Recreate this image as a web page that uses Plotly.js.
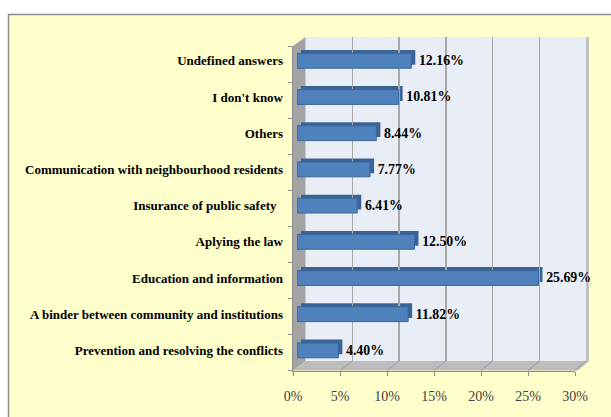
<!DOCTYPE html>
<html><head><meta charset="utf-8">
<script src="https://cdn.plot.ly/plotly-3.0.1.min.js"></script>
<style>html,body{margin:0;padding:0;background:#fff}#chart{width:611px;height:417px}</style>
</head><body><div id="chart"></div>
<script>
const categories = [
  'Undefined answers',
  "I don't know",
  'Others',
  'Communication with neighbourhood residents',
  'Insurance of public safety\u00a0\u00a0',
  'Aplying the law',
  'Education and information',
  'A binder between community and institutions',
  'Prevention and resolving the conflicts'
];
const values = [12.16, 10.81, 8.44, 7.77, 6.41, 12.50, 25.69, 11.82, 4.40];
const tickValues = [0, 5, 10, 15, 20, 25, 30];
const tickLabels = ['0%', '5%', '10%', '15%', '20%', '25%', '30%'];

const W = 611, H = 417;
const px = x => x / W, py = y => 1 - y / H;
const hdom = (a, b) => [a / W, b / W];
const vdom = (top, bottom) => [1 - bottom / H, 1 - top / H];

const FRONT = {x0: 293, x1: 575, y0: 46, y1: 370.5};
const BACK = {x0: 305.5, x1: 586, y0: 37, y1: 361};
const BARF = {x0: 297, x1: 579, y0: 42.7, y1: 368.5};
const BARB = {x0: 301, x1: 583, y0: 39.2, y1: 365};
const XMAX = 30;
const nCat = categories.length;

const serif = 'Liberation Serif, Times New Roman, serif';

const traces = [
  {type: 'bar', orientation: 'h', x: values, y: categories, xaxis: 'x', yaxis: 'y',
   width: 0.41, marker: {color: '#3A6496', line: {width: 0}}, showlegend: false, hoverinfo: 'skip'},
  {type: 'scatter', x: [], y: [], xaxis: 'x2', yaxis: 'y2', showlegend: false, hoverinfo: 'skip'},
  {type: 'scatter', x: [], y: [], xaxis: 'x3', yaxis: 'y3', showlegend: false, hoverinfo: 'skip'},
  {type: 'bar', orientation: 'h', x: values, y: categories, xaxis: 'x4', yaxis: 'y4',
   width: 0.41, marker: {color: '#4F81BD', line: {color: '#3B679C', width: 1}},
   text: values.map(v => '\u2004' + v.toFixed(2) + '%'), textposition: 'outside', cliponaxis: false,
   textfont: {family: serif, size: 14, color: '#000', weight: 'bold'},
   showlegend: false, hoverinfo: 'skip'}
];

const shapes = [];
shapes.push({type: 'rect', xref: 'paper', yref: 'paper', layer: 'below',
  x0: px(8.5), x1: px(650), y0: py(14.5), y1: py(460),
  fillcolor: '#FFFFCC', line: {color: '#8A8A8A', width: 1.5}});
shapes.push({type: 'rect', xref: 'paper', yref: 'paper', layer: 'below',
  x0: px(BACK.x0), x1: px(BACK.x1), y0: py(BACK.y1), y1: py(BACK.y0),
  fillcolor: '#E9EDF6', line: {width: 0}});
shapes.push({type: 'rect', xref: 'paper', yref: 'paper', layer: 'below',
  x0: px(BACK.x1), x1: px(BACK.x1 + 3), y0: py(BACK.y1 + 1), y1: py(BACK.y0),
  fillcolor: '#C2C2C2', line: {width: 0}});
shapes.push({type: 'path', xref: 'paper', yref: 'paper', layer: 'below',
  path: `M ${px(FRONT.x0)},${py(FRONT.y0)} L ${px(BACK.x0)},${py(BACK.y0)} L ${px(BACK.x0)},${py(BACK.y1)} L ${px(FRONT.x0)},${py(FRONT.y1)} Z`,
  fillcolor: '#A3A3A3', line: {width: 0}});
shapes.push({type: 'path', xref: 'paper', yref: 'paper', layer: 'below',
  path: `M ${px(FRONT.x0)},${py(FRONT.y1)} L ${px(BACK.x0)},${py(BACK.y1)} L ${px(BACK.x1 + 3)},${py(BACK.y1)} L ${px(FRONT.x1 + 3)},${py(FRONT.y1)} Z`,
  fillcolor: '#BDBDBD', line: {width: 0}});
tickValues.forEach(v => {
  if (v === 0) return;
  const xf = FRONT.x0 + (FRONT.x1 - FRONT.x0) * v / XMAX;
  const xb = BACK.x0 + (BACK.x1 - BACK.x0) * v / XMAX;
  shapes.push({type: 'line', xref: 'paper', yref: 'paper', layer: 'below',
    x0: px(xf), y0: py(FRONT.y1), x1: px(xb), y1: py(BACK.y1),
    line: {color: '#9A9A9A', width: 1}});
});

const layout = {
  width: W, height: H,
  margin: {l: 0, r: 0, t: 0, b: 0, pad: 0},
  paper_bgcolor: '#FFFFFF',
  plot_bgcolor: 'rgba(0,0,0,0)',
  showlegend: false,
  barmode: 'overlay',
  shapes: shapes,
  xaxis: {domain: hdom(BARB.x0, BARB.x1), range: [0, XMAX], visible: false, anchor: 'y', fixedrange: true},
  yaxis: {domain: vdom(BARB.y0, BARB.y1), type: 'category', categoryarray: categories,
    range: [nCat - 0.5, -0.5], anchor: 'x', visible: false},
  xaxis2: {domain: hdom(BACK.x0, BACK.x1), range: [0, XMAX], anchor: 'y2', tickvals: tickValues,
    showticklabels: false, ticks: '', showgrid: true, gridcolor: '#A8A8A8', gridwidth: 1.5,
    zeroline: false, showline: false},
  yaxis2: {domain: vdom(BACK.y0, BACK.y1), range: [0, 1], anchor: 'x2', visible: false},
  xaxis3: {domain: hdom(FRONT.x0, FRONT.x1), range: [0, XMAX], anchor: 'y3', tickvals: tickValues,
    ticktext: tickLabels, ticks: 'outside', ticklen: 4, tickcolor: '#8C8C8C', tickwidth: 1,
    showline: true, linecolor: '#8C8C8C', linewidth: 1, showgrid: false, zeroline: false,
    ticklabelstandoff: 9, tickfont: {family: serif, size: 14, color: '#404040'}},
  yaxis3: {domain: vdom(FRONT.y0, FRONT.y1), range: [0, nCat], anchor: 'x3',
    tickvals: Array.from({length: nCat + 1}, (_, i) => i), showticklabels: false,
    ticks: 'outside', ticklen: 4, tickcolor: '#8C8C8C', showline: true, linecolor: '#8C8C8C',
    showgrid: false, zeroline: false},
  xaxis4: {domain: hdom(BARF.x0, BARF.x1), range: [0, XMAX], anchor: 'y4', visible: false},
  yaxis4: {domain: vdom(BARF.y0, BARF.y1), type: 'category', categoryarray: categories,
    range: [nCat - 0.5, -0.5], anchor: 'x4', showgrid: false, zeroline: false, showline: false,
    ticks: '', ticklabelstandoff: 13,
    tickfont: {family: serif, size: 13, color: '#000', weight: 'bold'}}
};

Plotly.newPlot('chart', traces, layout, {displayModeBar: false, staticPlot: true});
</script>
</body></html>
